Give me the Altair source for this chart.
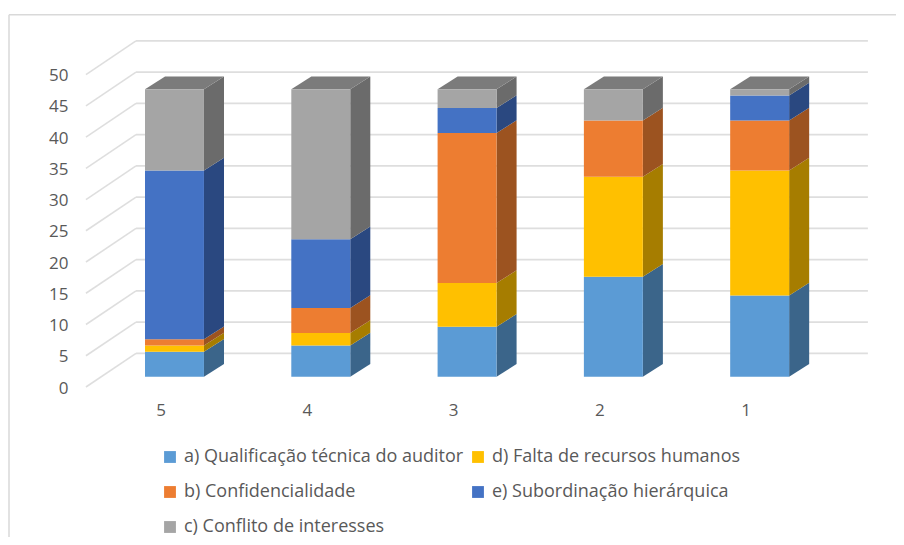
import altair as alt
import pandas as pd

categories = ["5", "4", "3", "2", "1"]
series = [
    "a) Qualificação técnica do auditor",
    "d) Falta de recursos humanos",
    "b) Confidencialidade",
    "e) Subordinação hierárquica",
    "c) Conflito de interesses",
]
serie_a = [4, 5, 8, 16, 13]
serie_d = [1, 2, 7, 16, 20]
serie_b = [1, 4, 24, 9, 8]
serie_e = [27, 11, 4, 0, 4]
serie_c = [13, 24, 3, 5, 1]
y_ticks = [0, 5, 10, 15, 20, 25, 30, 35, 40, 45, 50]
front_colors = ["#5B9BD5", "#FFC000", "#ED7D31", "#4472C4", "#A5A5A5"]
side_colors = ["#3B658A", "#A67D00", "#9C5320", "#2A4880", "#6B6B6B"]
top_color = "#7B7B7B"
grid_color = "#DEDEDE"
text_color = "#595959"
FONT = "Open Sans"

# projection constants, in scale units
BAR_W = 0.403
DX, DY = 0.137, 2.03
X_DOMAIN = [-1.138, 4.932]
Y_DOMAIN = [-25.65, 59.0]
WALL_L, WALL_R = -0.263, 4.74
FRONT_L = -0.605
WALL_DY, FRONT_DY = 3.74, -1.65

values = [serie_a, serie_d, serie_b, serie_e, serie_c]
front, side, tops = [], [], []
for i, cat in enumerate(categories):
    base = 0
    xl, xr = i - BAR_W / 2, i + BAR_W / 2
    for s, vals in enumerate(values):
        v = vals[i]
        if v > 0:
            front.append(dict(serie=series[s], xl=xl, xr=xr, v0=base, v1=base + v))
            for xp, d in ((xr, 0), (xr + DX, DY)):
                side.append(dict(id=f"{i}-{s}", x=xp, v0=base + d, v1=base + v + d,
                                 fill=side_colors[s]))
        base += v
    for yp, d in ((base, 0), (base + DY, DX)):
        tops.append(dict(id=str(i), y=yp, xl=xl + d, xr=xr + d))

x_scale = alt.Scale(domain=X_DOMAIN, nice=False, zero=False)
y_scale = alt.Scale(domain=Y_DOMAIN, nice=False, zero=False)
X = lambda f: alt.X(f, type="quantitative", scale=x_scale, axis=None)
Y = lambda f: alt.Y(f, type="quantitative", scale=y_scale, axis=None)

walls = pd.DataFrame([dict(t=t, xb=WALL_L, xr=WALL_R, xf=FRONT_L,
                           yb=t + WALL_DY, yf=t + FRONT_DY) for t in y_ticks])
grid_h = alt.Chart(walls).mark_rule(color=grid_color, strokeWidth=1.6).encode(
    x=X("xb"), x2="xr", y=Y("yb"))
grid_d = alt.Chart(walls).mark_rule(color=grid_color, strokeWidth=1.6).encode(
    x=X("xf"), x2="xb", y=Y("yf"), y2="yb")

y_labels = alt.Chart(walls.assign(lx=-0.7245, lab=[str(t) for t in y_ticks])).mark_text(
    align="right", baseline="middle", font=FONT, fontSize=17, color=text_color, dy=1.5
).encode(x=X("lx"), y=Y("yf"), text="lab:N")

cat_df = pd.DataFrame(dict(i=[n - 0.092 for n in range(5)], c=categories, yy=-5.35))
x_labels = alt.Chart(cat_df).mark_text(
    align="center", baseline="middle", font=FONT, fontSize=17, color=text_color, dy=1
).encode(x=X("i"), y=Y("yy"), text="c:N")

# Vega fills legend columns first, so this order reads a d / b e / c across rows
legend_order = [0, 2, 4, 1, 3]
bars = alt.Chart(pd.DataFrame(front)).mark_rect().encode(
    x=X("xl"), x2="xr", y=Y("v0"), y2="v1",
    color=alt.Color("serie:N",
                    scale=alt.Scale(domain=[series[k] for k in legend_order],
                                    range=[front_colors[k] for k in legend_order]),
                    sort=[series[k] for k in legend_order],
                    legend=alt.Legend(
                        title=None, orient="none", legendX=153, legendY=440,
                        columns=2, columnPadding=5, rowPadding=17,
                        symbolType="square", symbolSize=140, symbolStrokeWidth=0,
                        labelFont=FONT, labelFontSize=18, labelColor=text_color,
                        labelOffset=5, labelLimit=400)),
)
sides = alt.Chart(pd.DataFrame(side)).mark_area(orient="vertical", opacity=1).encode(
    x=X("x"), y=Y("v0"), y2="v1", detail="id:N",
    fill=alt.Fill("fill:N", scale=None),
)
top_faces = alt.Chart(pd.DataFrame(tops)).mark_area(
    orient="horizontal", color=top_color, opacity=1
).encode(y=Y("y"), x=X("xl"), x2="xr", detail="id:N")

frame = alt.Chart(pd.DataFrame(dict(x=[0], y=[0]))).mark_rule(
    color="#D9D9D9", strokeWidth=1.5).encode(
    x=alt.value(1), y=alt.value(6.7), y2=alt.value(529))
frame_top = alt.Chart(pd.DataFrame(dict(x=[0], y=[0]))).mark_rule(
    color="#D9D9D9", strokeWidth=1.5).encode(
    x=alt.value(1), x2=alt.value(888), y=alt.value(6.7))

chart = alt.layer(frame, frame_top, grid_h, grid_d, y_labels, x_labels, sides, top_faces, bars).properties(
    width=888, height=529, padding=0, autosize=alt.AutoSizeParams(type="none")
).configure_view(stroke=None).resolve_scale(color="independent")

chart.save("out.html", embed_options={"renderer": "svg", "actions": False})
